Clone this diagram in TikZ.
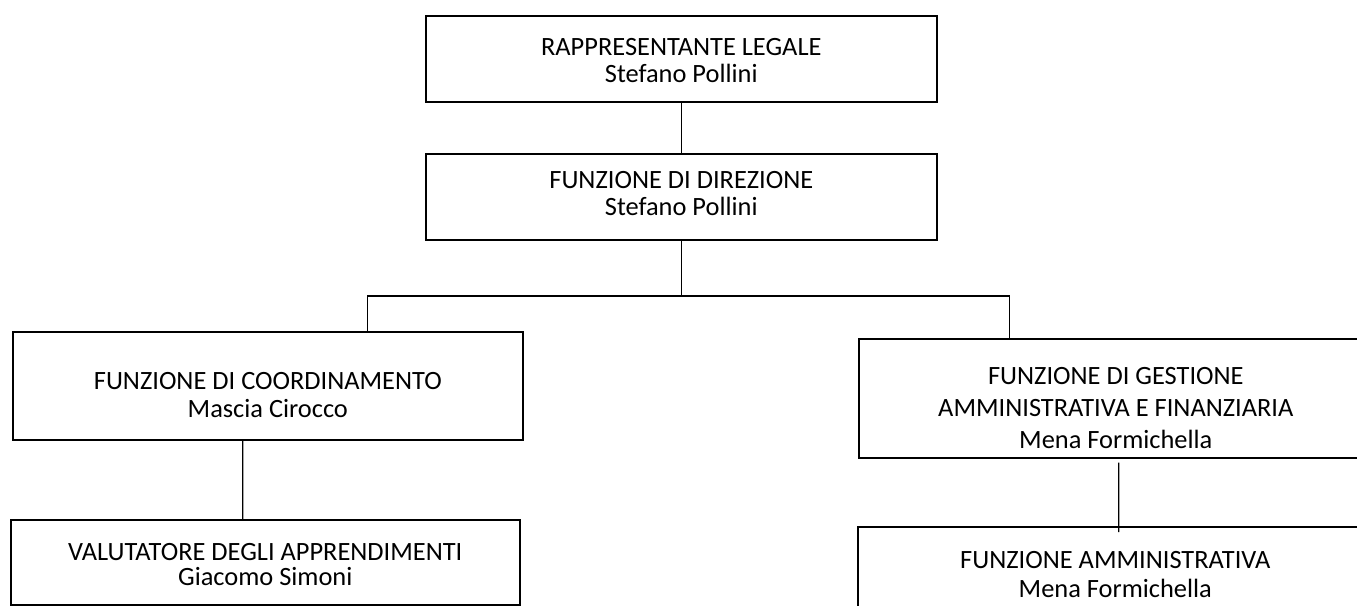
\documentclass[tikz,border=0pt]{standalone}
\usepackage{fontspec}
\setmainfont{Carlito}
\usepackage{tikz}
\usetikzlibrary{positioning}

\begin{document}
\begin{tikzpicture}[x=0.75pt, y=-0.75pt,
    box/.style={draw, line width=1.2pt, anchor=north west, inner sep=0pt},
    lbl/.style={anchor=north, align=center, inner sep=0pt, font=\fontsize{19.8}{24}\selectfont},
    lbltop/.style={lbl, font=\fontsize{19.8}{20.25}\selectfont},
    lblmid/.style={lbl, font=\fontsize{19.8}{21}\selectfont},
    lbllow/.style={lbl, font=\fontsize{19.8}{18.75}\selectfont},
    link/.style={line width=0.9pt}]

    \useasboundingbox (0,0) rectangle (1357,606);

    % -------------------------------------------------------
    % 1. Top of the chart
    % -------------------------------------------------------
    \node[box, minimum width=383.25pt, minimum height=64.5pt] (legale) at (425,15) {};
    \node[lbltop, below=17pt of legale.north] (legaletxt) {RAPPRESENTANTE LEGALE\\Stefano Pollini};

    \node[box, minimum width=383.25pt, minimum height=64.5pt] (direzione) at (425,153) {};
    \node[lbltop, below=13.3pt of direzione.north] (direzionetxt) {FUNZIONE DI DIREZIONE\\Stefano Pollini};

    % -------------------------------------------------------
    % 2. Left branch
    % -------------------------------------------------------
    \node[box, minimum width=382.5pt, minimum height=81pt] (coordinamento) at (12,331) {};
    \node[lblmid, below=30.75pt of coordinamento.north] (coordinamentotxt) {FUNZIONE DI COORDINAMENTO\\Mascia Cirocco};

    \node[box, minimum width=381.75pt, minimum height=63.75pt] (valutatore) at (10,519) {};
    \node[lbllow, below=18.25pt of valutatore.north] (valutatoretxt) {VALUTATORE DEGLI APPRENDIMENTI\\Giacomo Simoni};

    % -------------------------------------------------------
    % 3. Right branch (runs off the page edge)
    % -------------------------------------------------------
    \node[box, minimum width=385.5pt, minimum height=89.25pt] (gestione) at (858,338) {};
    \node[lbl, below=22pt of gestione.north] (gestionetxt) {FUNZIONE DI GESTIONE\\AMMINISTRATIVA E FINANZIARIA\\Mena Formichella};

    \node[box, minimum width=386.25pt, minimum height=70.5pt] (amministrativa) at (857,526) {};
    \node[lbl, font=\fontsize{19.8}{21.75}\selectfont, below=18.75pt of amministrativa.north] (amministrativatxt) {FUNZIONE AMMINISTRATIVA\\Mena Formichella};

    % -------------------------------------------------------
    % 4. Connectors
    % -------------------------------------------------------
    \coordinate (bus) at (direzione.south |- 0,296);
    \draw[link] (legale.south) -- (direzione.north);
    \draw[link] (direzione.south) -- (bus);
    \draw[link] ([xshift=75pt]coordinamento.north) |- (bus) -| ([xshift=-79.5pt]gestione.north);
    \draw[link] ([xshift=-18.75pt]coordinamento.south) -- ([xshift=-16.9pt]valutatore.north);
    \draw[link, shorten <=3pt, shorten >=-4.5pt] ([xshift=2.25pt]gestione.south) -- ([xshift=2.6pt]amministrativa.north);
\end{tikzpicture}
\end{document}
